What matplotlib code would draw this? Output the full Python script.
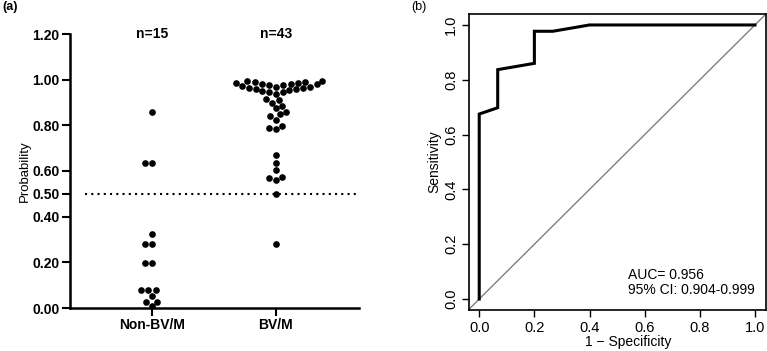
import matplotlib
matplotlib.use("Agg")
import matplotlib.pyplot as plt
import seaborn as sns
import numpy as np

plt.rcParams['font.family'] = ['Liberation Sans', 'DejaVu Sans']

# panel (a) data
groups = ['Non-BV/M', 'BV/M']
group_n = ['n=15', 'n=43']
non_bvm = [0.857, 0.636, 0.636, 0.323, 0.282, 0.282, 0.198, 0.198,
           0.077, 0.077, 0.077, 0.053, 0.028, 0.028, 0.010]
bvm = [0.995, 0.993, 0.991, 0.989, 0.987, 0.985, 0.983, 0.981, 0.979, 0.977,
       0.975, 0.972, 0.970, 0.968, 0.965, 0.962, 0.960, 0.957, 0.955, 0.952,
       0.948, 0.944, 0.938,
       0.915, 0.910, 0.900, 0.885, 0.875, 0.860, 0.850, 0.840, 0.825,
       0.795, 0.790, 0.785,
       0.670, 0.635, 0.605, 0.575, 0.570, 0.560, 0.500, 0.280]
prob_ticks = [0.0, 0.2, 0.4, 0.5, 0.6, 0.8, 1.0, 1.2]
cutoff = 0.5

# panel (b) data
fpr = [0.0, 0.0, 0.067, 0.067, 0.200, 0.200, 0.267, 0.400, 1.0]
tpr = [0.0, 0.675, 0.698, 0.837, 0.860, 0.977, 0.977, 1.0, 1.0]
auc_text = 'AUC= 0.956\n95% CI: 0.904-0.999'
roc_ticks = [0.0, 0.2, 0.4, 0.6, 0.8, 1.0]

fig = plt.figure(figsize=(7.67, 3.51), dpi=100)

# ---- (a) swarm plot
ax1 = fig.add_axes([70/767, 1-308/351, 289/767, 274/351])
xs = [groups[0]]*len(non_bvm) + [groups[1]]*len(bvm)
ys = non_bvm + bvm
sns.swarmplot(x=xs, y=ys, order=groups, color='black', size=4.8, ax=ax1, zorder=3)
ax1.set_xlim(-0.66, 1.67)
ax1.set_ylim(0, 1.2)
ax1.plot([-0.54, 1.65], [cutoff, cutoff], color='black', lw=1.5,
         linestyle=(0, (1, 2)), zorder=2)
for sp in ['top', 'right']:
    ax1.spines[sp].set_visible(False)
for sp in ['left', 'bottom']:
    ax1.spines[sp].set_linewidth(1.8)
ax1.set_yticks(prob_ticks)
ax1.set_yticklabels(['%.2f' % t for t in prob_ticks], fontsize=10, fontweight='bold')
ax1.set_xticks([0, 1])
ax1.set_xticklabels(groups, fontsize=10, fontweight='bold')
ax1.tick_params(axis='both', direction='out', length=5.5, width=1.5, pad=2)
ax1.set_ylabel('Probability', fontsize=9.5, labelpad=1)
for i, lab in enumerate(group_n):
    ax1.text(i, 1.2, lab, ha='center', va='center', fontsize=10, fontweight='bold')
fig.text(2/767, 1-7/351, '(a)', ha='left', va='center', fontsize=9, fontweight='bold')

# ---- (b) ROC curve
ax2 = fig.add_axes([469.3/767, 1-310/351, 296.7/767, 296/351])
ax2.axline((0, 0), (1, 1), color='#808080', lw=1.0)
ax2.plot(fpr, tpr, color='black', lw=2.2, solid_joinstyle='miter')
ax2.set_xlim(-0.036, 1.04)
ax2.set_ylim(-0.04, 1.04)
for sp in ax2.spines.values():
    sp.set_linewidth(1.2)
ax2.set_xticks(roc_ticks)
ax2.set_yticks(roc_ticks)
ax2.set_xticklabels(['%.1f' % t for t in roc_ticks], fontsize=10.5)
ax2.set_yticklabels(['%.1f' % t for t in roc_ticks], fontsize=10.5,
                    rotation=90, va='center')
ax2.tick_params(axis='both', direction='out', length=5, width=1.0, pad=3)
ax2.set_xlabel('1 \u2212 Specificity', fontsize=10, labelpad=0)
ax2.xaxis.set_label_coords(0.535, -0.085)
ax2.set_ylabel('Sensitivity', fontsize=10, labelpad=2)
ax2.text(0.539, 0.06, auc_text, ha='left', va='center', fontsize=10,
         linespacing=1.15)
fig.text(419/767, 1-7/351, '(b)', ha='center', va='center', fontsize=9)

fig.savefig('out.png', dpi=100)
